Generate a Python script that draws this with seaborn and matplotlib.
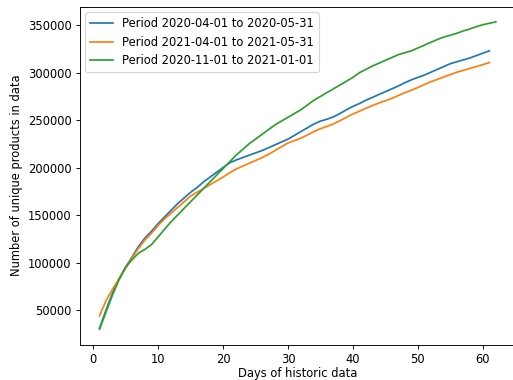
"""Growth of unique products over days of historic data."""

import matplotlib
matplotlib.use("Agg")
import matplotlib.pyplot as plt
import seaborn as sns
import pandas as pd

# Unique product counts per day of history, one list per period
period_2020_spring = [
    31000, 50000, 68000, 83000, 95000, 106000, 117000, 126000, 133000, 141000,
    148000, 155000, 162000, 168000, 174000, 179000, 185000, 190000, 195000, 200000,
    205000, 208000, 210500, 213000, 215500, 218000, 221000, 224000, 227000, 230000,
    234000, 238000, 242000, 246000, 249000, 251000, 253500, 257000, 261000, 264500,
    267500, 271000, 274000, 277000, 280000, 283000, 286000, 289500, 292500, 295000,
    297500, 300500, 303500, 306500, 309500, 311500, 313500, 315500, 318000, 320500,
    323000,
]
period_2021_spring = [
    44000, 60000, 72000, 83000, 94000, 105000, 115000, 124000, 131000, 139000,
    146000, 152000, 158000, 164000, 170000, 174000, 178000, 182000, 186000, 190000,
    194500, 198500, 201500, 204500, 207500, 210500, 214000, 218000, 222000, 226000,
    228500, 231000, 234500, 238000, 241000, 243500, 246000, 249500, 253000, 256500,
    259500, 262500, 265500, 268000, 270500, 273000, 276000, 279000, 281500, 284500,
    287500, 290500, 293000, 295500, 298000, 300500, 302500, 304500, 306500, 308500,
    310700,
]
period_2020_winter = [
    30000, 48000, 66000, 82000, 95000, 103000, 110000, 114000, 119000, 127000,
    135000, 143000, 150000, 157000, 164000, 171000, 178000, 185000, 192000, 199000,
    206000, 213000, 219000, 225000, 230000, 235000, 240000, 245000, 249000, 253000,
    257000, 261000, 266000, 271000, 275000, 279000, 283000, 287000, 291000, 295000,
    300000, 303500, 307000, 310000, 313000, 316000, 319000, 321000, 323000, 326000,
    329000, 332000, 335000, 337500, 339500, 341500, 344000, 346000, 348500, 350500,
    352000, 353500,
]
labels = [
    "Period 2020-04-01 to 2020-05-31",
    "Period 2021-04-01 to 2021-05-31",
    "Period 2020-11-01 to 2021-01-01",
]

frames = []
for label, values in zip(labels, [period_2020_spring, period_2021_spring, period_2020_winter]):
    frames.append(pd.DataFrame({
        "days": range(1, len(values) + 1),
        "products": values,
        "period": label,
    }))
df = pd.concat(frames, ignore_index=True)

dpi = 83
fig = plt.figure(figsize=(513 / dpi, 380 / dpi), dpi=dpi)
ax = fig.add_axes([79.7 / 513, 1 - 344.5 / 380, 436 / 513, 338 / 380])

sns.lineplot(data=df, x="days", y="products", hue="period", ax=ax,
             palette=["#1f77b4", "#ff7f0e", "#2ca02c"], linewidth=1.5)

ax.set_xlabel("Days of historic data", labelpad=1)
ax.set_ylabel("Number of unique products in data")
ax.legend(loc="upper left", title=None)

fig.savefig("out.png", dpi=dpi)
